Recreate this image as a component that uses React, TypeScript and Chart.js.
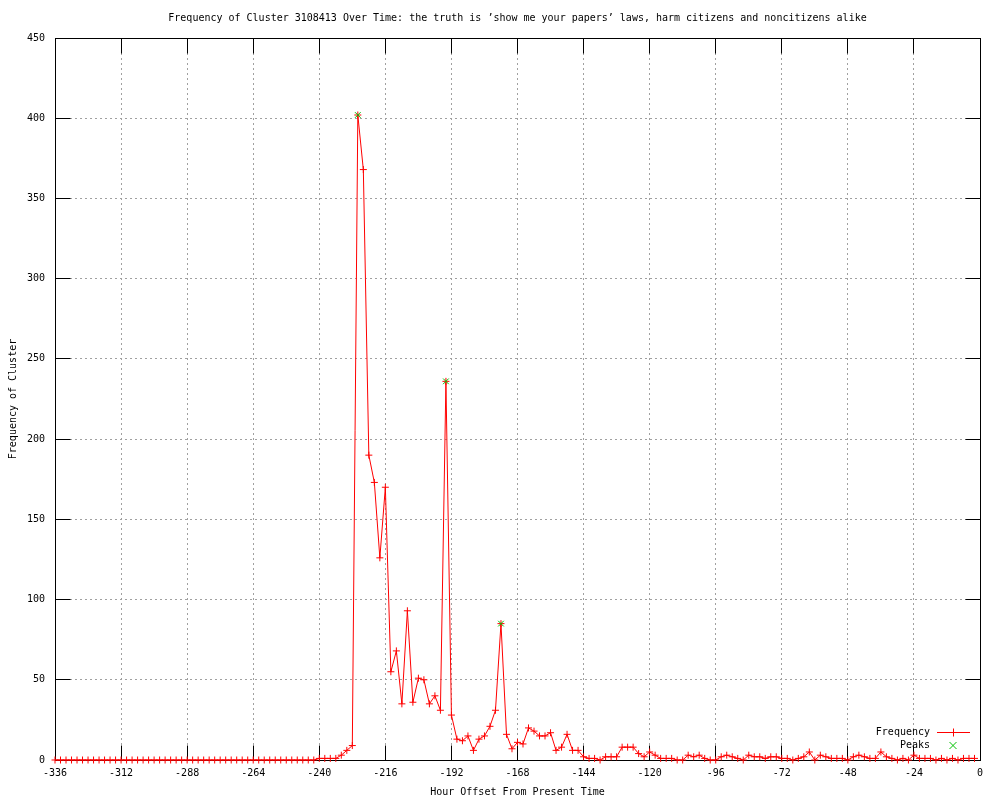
import React, { useEffect, useRef } from "react";
import { Chart, registerables } from "chart.js";

Chart.register(...registerables);

const TITLE =
  "Frequency of Cluster 3108413 Over Time: the truth is ’show me your papers’ laws, harm citizens and noncitizens alike";
const X_TITLE = "Hour Offset From Present Time";
const Y_TITLE = "Frequency of Cluster";

// Hour offsets (every 2 hours)
const hours: number[] = [
  -336, -334, -332, -330, -328, -326, -324, -322, -320, -318, -316, -314,
  -312, -310, -308, -306, -304, -302, -300, -298, -296, -294, -292, -290,
  -288, -286, -284, -282, -280, -278, -276, -274, -272, -270, -268, -266,
  -264, -262, -260, -258, -256, -254, -252, -250, -248, -246, -244, -242,
  -240, -238, -236, -234, -232, -230, -228, -226, -224, -222, -220, -218,
  -216, -214, -212, -210, -208, -206, -204, -202, -200, -198, -196, -194,
  -192, -190, -188, -186, -184, -182, -180, -178, -176, -174, -172, -170,
  -168, -166, -164, -162, -160, -158, -156, -154, -152, -150, -148, -146,
  -144, -142, -140, -138, -136, -134, -132, -130, -128, -126, -124, -122,
  -120, -118, -116, -114, -112, -110, -108, -106, -104, -102, -100, -98,
  -96, -94, -92, -90, -88, -86, -84, -82, -80, -78, -76, -74,
  -72, -70, -68, -66, -64, -62, -60, -58, -56, -54, -52, -50,
  -48, -46, -44, -42, -40, -38, -36, -34, -32, -30, -28, -26,
  -24, -22, -20, -18, -16, -14, -12, -10, -8, -6, -4, -2,
];

const frequency: number[] = [
  0, 0, 0, 0, 0, 0, 0, 0, 0, 0, 0, 0,
  0, 0, 0, 0, 0, 0, 0, 0, 0, 0, 0, 0,
  0, 0, 0, 0, 0, 0, 0, 0, 0, 0, 0, 0,
  0, 0, 0, 0, 0, 0, 0, 0, 0, 0, 0, 0,
  1, 1, 1, 1, 3, 6, 9, 402, 368, 190, 173, 126,
  170, 55, 68, 35, 93, 36, 51, 50, 35, 40, 31, 236,
  28, 13, 12, 15, 6, 13, 15, 21, 31, 85, 16, 7,
  11, 10, 20, 18, 15, 15, 17, 6, 8, 16, 6, 6,
  2, 1, 1, 0, 2, 2, 2, 8, 8, 8, 4, 2,
  5, 3, 1, 1, 1, 0, 0, 3, 2, 3, 1, 0,
  0, 2, 3, 2, 1, 0, 3, 2, 2, 1, 2, 2,
  1, 1, 0, 1, 2, 5, 0, 3, 2, 1, 1, 1,
  0, 2, 3, 2, 1, 1, 5, 2, 1, 0, 1, 0,
  3, 1, 1, 1, 0, 1, 0, 1, 0, 1, 1, 1,
];

const peakHours: number[] = [-226, -194, -174];
const peakValues: number[] = [402, 236, 85];

const xTickValues: number[] = [
  -336, -312, -288, -264, -240, -216, -192, -168, -144, -120, -96, -72, -48, -24, 0,
];
const yTickValues: number[] = [0, 50, 100, 150, 200, 250, 300, 350, 400, 450];

const FONT = "'DejaVu Sans Mono', 'Liberation Mono', monospace";
const RED = "#ff0000";
const GREEN = "#00c000";
const TICK_LEN = 15;

const align = (p: number) => Math.round(p - 0.5) + 0.5;

const framePlugin = {
  id: "gnuplotFrame",
  beforeDatasetsDraw(chart: any) {
    const { ctx, chartArea } = chart;
    const { left, right, top, bottom } = chartArea;
    const xs = chart.scales.x;
    const ys = chart.scales.y;
    const L = align(left);
    const R = align(right);
    const T = align(top);
    const B = align(bottom);
    ctx.save();
    ctx.strokeStyle = "#000";
    ctx.lineWidth = 1;
    ctx.setLineDash([]);
    ctx.beginPath();
    for (const v of xTickValues) {
      const px = align(xs.getPixelForValue(v));
      ctx.moveTo(px, B);
      ctx.lineTo(px, B - TICK_LEN);
      ctx.moveTo(px, T);
      ctx.lineTo(px, T + TICK_LEN);
    }
    for (const v of yTickValues) {
      const py = align(ys.getPixelForValue(v));
      ctx.moveTo(L, py);
      ctx.lineTo(L + TICK_LEN, py);
      ctx.moveTo(R, py);
      ctx.lineTo(R - TICK_LEN, py);
    }
    ctx.stroke();
    ctx.strokeRect(L, T, R - L, B - T);
    ctx.restore();
  },
  afterDraw(chart: any) {
    const { ctx, chartArea } = chart;
    ctx.save();
    ctx.fillStyle = "#000";
    ctx.font = `10px ${FONT}`;
    ctx.textBaseline = "middle";
    ctx.textAlign = "center";
    ctx.fillText(TITLE, (chartArea.left + chartArea.right) / 2, 18);

    // legend
    const ds = chart.data.datasets;
    const textX = 930;
    const sampleX = 953;
    const y1 = 732.5;
    const y2 = 745.5;
    ctx.textAlign = "right";
    ctx.fillText(ds[0].label, textX, y1);
    ctx.fillText(ds[1].label, textX, y2);
    ctx.lineWidth = 1;
    ctx.strokeStyle = ds[0].borderColor;
    ctx.beginPath();
    ctx.moveTo(937, y1);
    ctx.lineTo(970, y1);
    ctx.moveTo(sampleX + 0.5, y1 - 4);
    ctx.lineTo(sampleX + 0.5, y1 + 4);
    ctx.stroke();
    ctx.strokeStyle = ds[1].borderColor;
    ctx.beginPath();
    ctx.moveTo(sampleX - 3.5, y2 - 3.5);
    ctx.lineTo(sampleX + 3.5, y2 + 3.5);
    ctx.moveTo(sampleX - 3.5, y2 + 3.5);
    ctx.lineTo(sampleX + 3.5, y2 - 3.5);
    ctx.stroke();
    ctx.restore();
  },
};

export default function App() {
  const ref = useRef<HTMLCanvasElement | null>(null);

  useEffect(() => {
    if (!ref.current) return;
    const chart = new Chart(ref.current, {
      type: "line",
      data: {
        datasets: [
          {
            label: "Frequency",
            data: hours.map((h, i) => ({ x: h, y: frequency[i] })),
            borderColor: RED,
            backgroundColor: RED,
            borderWidth: 1,
            pointStyle: "cross",
            pointRadius: 3.5,
            pointBorderWidth: 1,
            pointBorderColor: RED,
            tension: 0,
            clip: false,
            order: 2,
          },
          {
            label: "Peaks",
            data: peakHours.map((h, i) => ({ x: h, y: peakValues[i] })),
            borderColor: GREEN,
            backgroundColor: GREEN,
            showLine: false,
            pointStyle: "crossRot",
            pointRadius: 4,
            pointBorderWidth: 1,
            pointBorderColor: GREEN,
            clip: false,
            order: 1,
          },
        ],
      } as any,
      options: {
        animation: false,
        responsive: false,
        maintainAspectRatio: false,
        layout: { padding: { left: 0, right: 20, top: 38, bottom: 0 } },
        plugins: {
          legend: { display: false },
          title: { display: false },
          tooltip: { enabled: false },
        },
        scales: {
          x: {
            type: "linear",
            min: -336,
            max: 0,
            afterBuildTicks: (scale: any) => {
              scale.ticks = xTickValues.map((v) => ({ value: v }));
            },
            afterFit: (scale: any) => {
              scale.height = 40;
            },
            ticks: {
              autoSkip: false,
              maxRotation: 0,
              padding: 7,
              color: "#000",
              font: { family: FONT, size: 10 },
              callback: (v: any) => String(v),
            },
            grid: { color: "#a0a0a0", lineWidth: 1, drawTicks: false },
            border: { display: false, dash: [2, 3] },
            title: {
              display: true,
              text: X_TITLE,
              color: "#000",
              font: { family: FONT, size: 10 },
              padding: { top: 0, bottom: 2 },
            },
          },
          y: {
            type: "linear",
            min: 0,
            max: 450,
            afterBuildTicks: (scale: any) => {
              scale.ticks = yTickValues.map((v) => ({ value: v }));
            },
            afterFit: (scale: any) => {
              scale.width = 55;
            },
            ticks: {
              autoSkip: false,
              padding: 10,
              color: "#000",
              font: { family: FONT, size: 10 },
              callback: (v: any) => String(v),
            },
            grid: { color: "#a0a0a0", lineWidth: 1, drawTicks: false },
            border: { display: false, dash: [2, 3] },
            title: {
              display: true,
              text: Y_TITLE,
              color: "#000",
              font: { family: FONT, size: 10 },
              padding: { top: 7, bottom: 0 },
            },
          },
        },
      } as any,
      plugins: [framePlugin],
    });
    return () => chart.destroy();
  }, []);

  return (
    <div style={{ position: "absolute", left: 0, top: 0, width: 1000, height: 800, background: "#fff" }}>
      <canvas ref={ref} width={1000} height={800} style={{ display: "block" }} />
    </div>
  );
}
